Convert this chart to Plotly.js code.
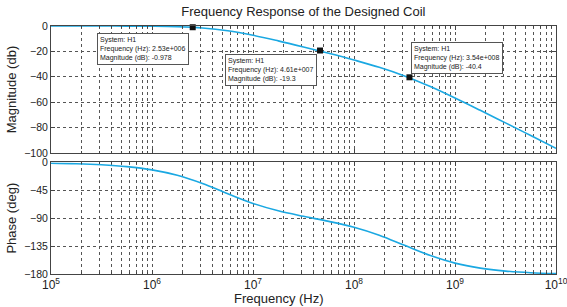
<!DOCTYPE html>
<html><head><meta charset="utf-8">
<script src="https://cdn.plot.ly/plotly-3.0.1.min.js"></script>
<style>html,body{margin:0;padding:0;background:#fff;}#chart{width:567px;height:307px;}</style>
</head><body><div id="chart"></div>
<script>
// Frequencies (Hz), quarter-decade steps
var freq = [1e5, 1.778e5, 3.162e5, 5.623e5, 1e6, 1.778e6, 3.162e6, 5.623e6, 1e7, 1.778e7, 3.162e7, 5.623e7, 1e8, 1.778e8, 3.162e8, 5.623e8, 1e9, 1.778e9, 3.162e9, 5.623e9, 1e10];
var magnitude = [0, -0.01, -0.02, -0.06, -0.19, -0.56, -1.57, -3.76, -7.3, -11.7, -16.5, -21.5, -26.8, -32.5, -39.3, -47.5, -56.7, -66.4, -76.3, -86.3, -96.3];
var phase = [-1.2, -2.1, -3.8, -6.8, -12.0, -20.7, -34.0, -50.5, -66.2, -78.1, -87.0, -95.1, -104.6, -117.5, -133.8, -149.9, -162.5, -170.5, -175.3, -178.0, -179.4];
// Data tips
var tipFreq = [2.53e6, 4.61e7, 3.54e8];
var tipMag = [-0.978, -19.3, -40.4];
var tipFreqText = ['2.53e+006', '4.61e+007', '3.54e+008'];
var tipMagText = ['-0.978', '-19.3', '-40.4'];
var xTickVals = [1e5, 1e6, 1e7, 1e8, 1e9, 1e10];
var xTickText = ['10<sup>5</sup>', '10<sup>6</sup>', '10<sup>7</sup>', '10<sup>8</sup>', '10<sup>9</sup>', '10<sup>10</sup>'];

var lineColor = '#1aa8e2';
var font = 'Liberation Sans, Arial, sans-serif';
var gridStyle = {showgrid: true, gridcolor: '#555', griddash: 'dot', gridwidth: 1};

var traces = [
  {x: freq, y: magnitude, xaxis: 'x2', yaxis: 'y2', mode: 'lines', line: {color: lineColor, width: 1.6, shape: 'spline'}, hoverinfo: 'skip'},
  {x: freq, y: phase, xaxis: 'x', yaxis: 'y', mode: 'lines', line: {color: lineColor, width: 1.6, shape: 'spline'}, hoverinfo: 'skip'},
  {x: tipFreq, y: tipMag, xaxis: 'x2', yaxis: 'y2', mode: 'markers', marker: {symbol: 'square', size: 6, color: '#111'}, cliponaxis: false, hoverinfo: 'skip'}
];

var shifts = [
  {xanchor: 'right', yanchor: 'top', xshift: -4, yshift: -6},
  {xanchor: 'right', yanchor: 'top', xshift: -3, yshift: -3},
  {xanchor: 'left', yanchor: 'bottom', xshift: 2, yshift: 3}
];
var annotations = tipFreq.map(function (f, i) {
  return Object.assign({
    x: Math.log10(f), y: tipMag[i], xref: 'x2', yref: 'y2', showarrow: false,
    text: 'System: H1<br>Frequency (Hz): ' + tipFreqText[i] + '<br>Magnitude (dB): ' + tipMagText[i],
    align: 'left', font: {family: font, size: 7, color: '#222'},
    bgcolor: '#fff', bordercolor: '#555', borderwidth: 1, borderpad: 2
  }, shifts[i]);
});
annotations.push({
  text: 'Frequency (Hz)', xref: 'paper', yref: 'paper', x: (279 - 51) / (556 - 51), y: -0.1,
  yanchor: 'middle', showarrow: false,
  font: {family: font, size: 13, color: '#222'}
});

var xCommon = {
  type: 'log', range: [5, 10], showline: true, mirror: 'ticks', linecolor: '#444', linewidth: 1,
  ticks: 'inside', ticklen: 4, tickcolor: '#444', tickvals: xTickVals, ticklabeloverflow: 'allow',
  minor: {dtick: 'D1', showgrid: true, gridcolor: '#555', griddash: 'dot', ticks: 'inside', ticklen: 2, tickcolor: '#444'},
  zeroline: false
};

var layout = {
  width: 567, height: 307,
  margin: {l: 51, r: 11, t: 26, b: 33},
  paper_bgcolor: '#fff', plot_bgcolor: '#fff',
  showlegend: false,
  font: {family: font, color: '#222'},
  title: {text: 'Frequency Response of the Designed Coil', font: {family: font, size: 13, color: '#222'},
          x: 0.535, xanchor: 'center', y: 0.962, yanchor: 'middle'},
  xaxis: Object.assign({}, xCommon, gridStyle, {anchor: 'y', ticktext: xTickText, showticklabels: true,
    tickfont: {family: font, size: 12, color: '#222'}}),
  xaxis2: Object.assign({}, xCommon, gridStyle, {anchor: 'y2', matches: 'x', ticktext: xTickText, showticklabels: false}),
  yaxis: Object.assign({}, gridStyle, {domain: [0, 0.45], range: [-180, 0], tickvals: [-180, -135, -90, -45, 0],
    showline: true, mirror: 'ticks', linecolor: '#444', ticks: 'inside', ticklen: 4, tickcolor: '#444', zeroline: false,
    tickfont: {family: font, size: 10.5, color: '#222'},
    title: {text: 'Phase (deg)', font: {family: font, size: 13, color: '#222'}, standoff: 4}}),
  yaxis2: Object.assign({}, gridStyle, {domain: [0.488, 1], range: [-100, 0], tickvals: [-100, -80, -60, -40, -20, 0],
    showline: true, mirror: 'ticks', linecolor: '#444', ticks: 'inside', ticklen: 4, tickcolor: '#444', zeroline: false,
    tickfont: {family: font, size: 10.5, color: '#222'},
    title: {text: 'Magnitude (db)', font: {family: font, size: 13, color: '#222'}, standoff: 4}}),
  annotations: annotations
};

Plotly.newPlot('chart', traces, layout, {staticPlot: true, displayModeBar: false});
</script></body></html>
